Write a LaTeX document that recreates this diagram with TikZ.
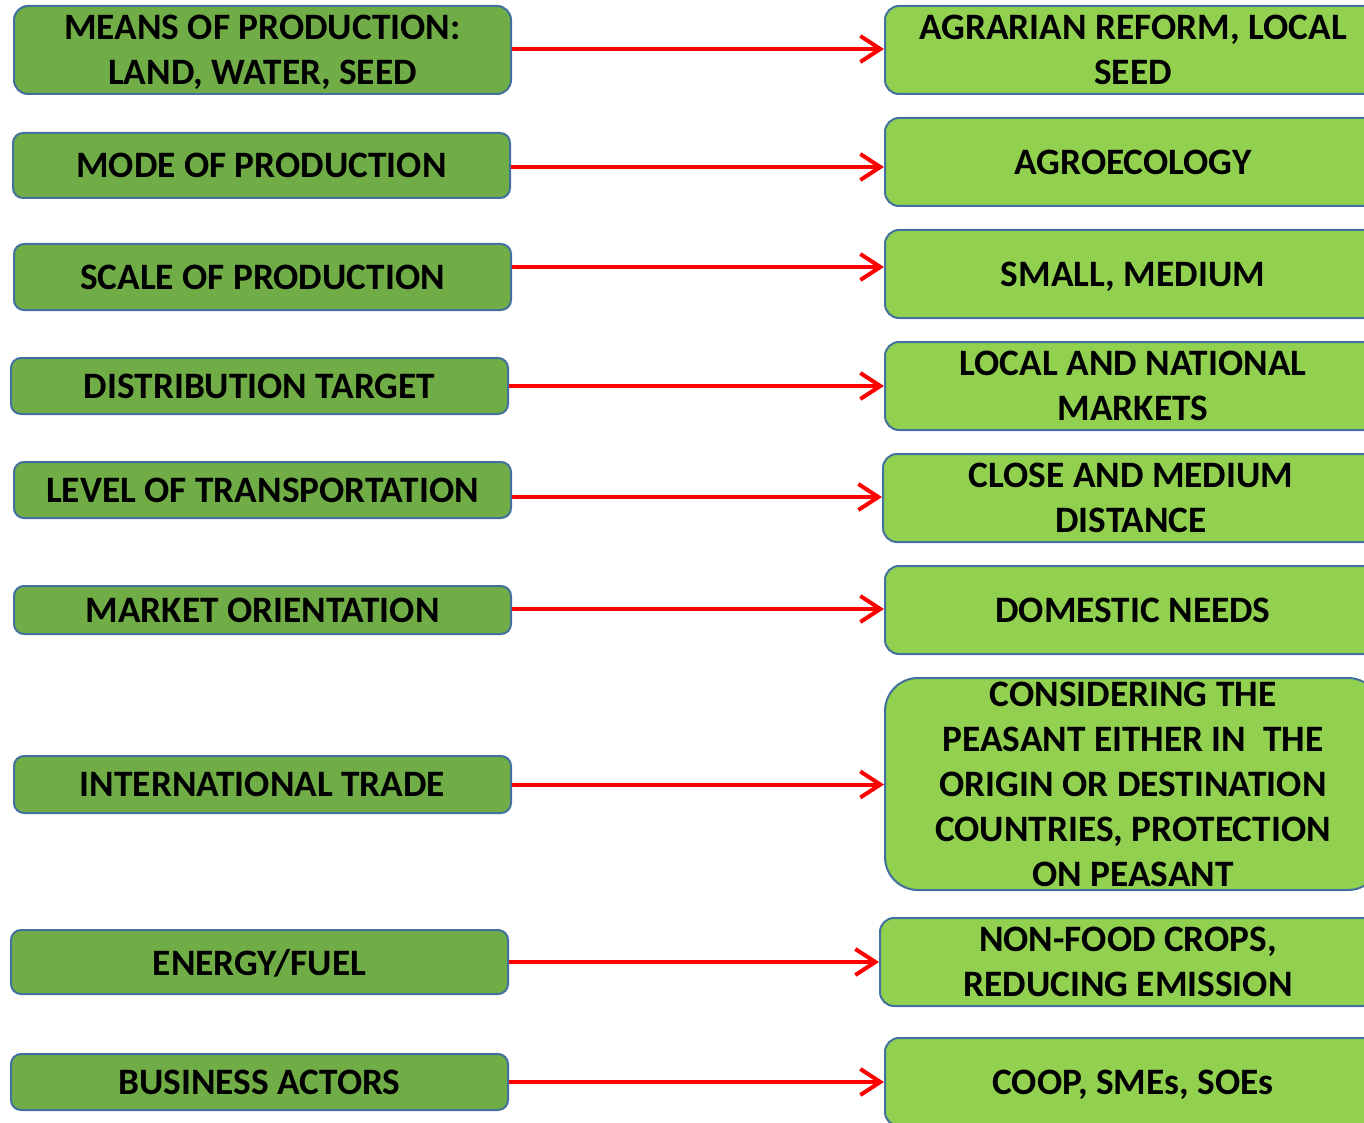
\documentclass[tikz,border=0pt]{standalone}
\usepackage{fontspec}
\setmainfont{Carlito}
\usetikzlibrary{arrows.meta}
\definecolor{lfill}{HTML}{70AD47}
\definecolor{rfill}{HTML}{92D050}
\definecolor{bord}{HTML}{41719C}
\definecolor{arr}{HTML}{FF0000}
\tikzset{
  box/.style={draw=bord, line width=2pt, rounded corners=10pt, align=center,
    font=\bfseries\fontsize{37.3}{45}\selectfont, inner sep=0pt, text depth=0pt, minimum width=497pt},
  lbox/.style={box, fill=lfill},
  rbox/.style={box, fill=rfill, minimum width=496pt, minimum height=88pt, rounded corners=14pt},
  conn/.style={draw=arr, line width=4pt, -{Straight Barb[length=20pt,width=26pt]}}
}
\begin{document}
\begin{tikzpicture}[x=1pt,y=-1pt]
\useasboundingbox (0,0) rectangle (1364,1123);
\clip (0,0) rectangle (1364,1123);
% left boxes
\node[lbox, minimum height=88pt, rounded corners=14pt] (L1) at (262.5,50) {MEANS OF PRODUCTION:\\LAND, WATER, SEED};
\node[lbox, minimum height=65pt] (L2) at (261.5,165.5) {MODE OF PRODUCTION};
\node[lbox, minimum height=66pt] (L3) at (262.5,277) {SCALE OF PRODUCTION};
\node[lbox, minimum height=56pt] (L4) at (259.5,386) {DISTRIBUTION TARGET};
\node[lbox, minimum height=56pt] (L5) at (262.5,490) {LEVEL OF TRANSPORTATION};
\node[lbox, minimum height=48pt] (L6) at (262.5,610) {MARKET ORIENTATION};
\node[lbox, minimum height=57pt] (L7) at (262.5,784.5) {INTERNATIONAL TRADE};
\node[lbox, minimum height=64pt] (L8) at (259.5,962) {ENERGY/FUEL};
\node[lbox, minimum height=56pt] (L9) at (259.5,1082) {BUSINESS ACTORS};
% right boxes
\node[rbox] (R1) at (1133,50) {AGRARIAN REFORM, LOCAL\\SEED};
\node[rbox] (R2) at (1133,162) {AGROECOLOGY};
\node[rbox] (R3) at (1133,274) {SMALL, MEDIUM};
\node[rbox] (R4) at (1133,386) {LOCAL AND NATIONAL\\MARKETS};
\node[rbox] (R5) at (1131,498) {CLOSE AND MEDIUM\\DISTANCE};
\node[rbox] (R6) at (1133,610) {DOMESTIC NEEDS};
\node[rbox, minimum height=212pt, rounded corners=33pt] (R7) at (1133,784) {CONSIDERING THE\\PEASANT EITHER IN\ \ THE\\ORIGIN OR DESTINATION\\COUNTRIES, PROTECTION\\ON PEASANT};
\node[rbox] (R8) at (1128,962) {NON-FOOD CROPS,\\REDUCING EMISSION};
\node[rbox] (R9) at (1133,1082) {COOP, SMEs, SOEs};
% connectors
\coordinate (a1) at ([yshift=1pt]L1.east);
\coordinate (a2) at ([yshift=-1.5pt]L2.east);
\coordinate (a3) at ([yshift=10pt]L3.east);
\coordinate (a4) at (L4.east);
\coordinate (a5) at ([yshift=-7pt]L5.east);
\coordinate (a6) at ([yshift=1pt]L6.east);
\coordinate (a7) at (L7.east);
\coordinate (a8) at (L8.east);
\coordinate (a9) at (L9.east);
\foreach \i in {1,...,9}{
  \draw[conn] (a\i) -- (a\i -| R\i.west);
}
\end{tikzpicture}
\end{document}
